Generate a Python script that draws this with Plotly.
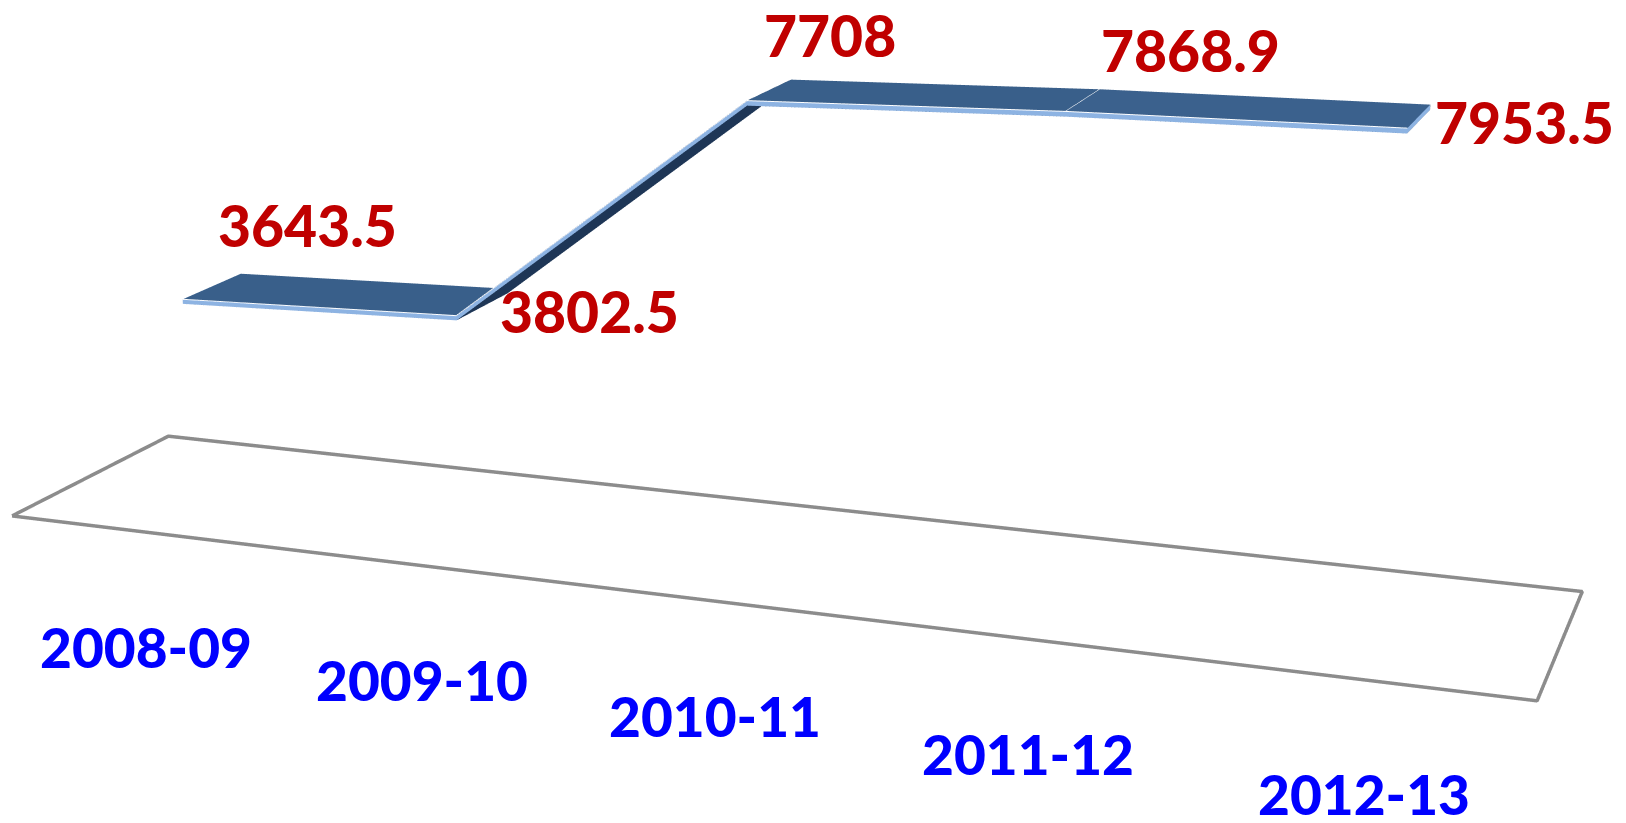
import numpy as np
import plotly.graph_objects as go

# ---- data ----
categories = ["2008-09", "2009-10", "2010-11", "2011-12", "2012-13"]
values = [3643.5, 3802.5, 7708, 7868.9, 7953.5]

# ---- layout / style ----
W, H = 1626, 823
XR = [-0.5, 4.5]            # category axis (floor spans the category bands)
YR = [0.0, 1.0]             # depth axis
ZR = [-40.0, 9000.0]        # value axis
PAD = 0.003
ASPECT = dict(x=3.0 * (1 + 2 * PAD / 5), y=0.5992 * (1 + 2 * PAD), z=1.0543)
EYE = dict(x=2.1083, y=-5.5677, z=1.4609)
CENTER = dict(x=0.1105, y=-0.0592, z=-0.2147)
VIEW_FOVY = 14.40           # effective vertical field of view (degrees) of the original chart
RIB_FRONT, RIB_BACK = 0.322, 0.706
THICK = 80

# plotly uses a 45 deg field of view over the scene height; a taller scene gives the weaker perspective
HS = int(round(H * np.tan(np.radians(22.5)) / np.tan(np.radians(VIEW_FOVY / 2))))
TOP = (HS - H) // 2

val_shift = [(95, 61), (107, -9), (61, 55), (107, 50), (105, -6)]
cat_shift = (3, -115)

top_c = np.array([0x3D, 0x64, 0x91]); dark_c = np.array([0x1E, 0x36, 0x56])
front_c = '#8DB3E2'

def hexc(c):
    return '#%02x%02x%02x' % tuple(int(round(v)) for v in c)

X, Y, Z, I, J, K, FC = [], [], [], [], [], [], []
def quad(v4, col):
    base = len(X)
    for v in v4:
        X.append(v[0]); Y.append(v[1]); Z.append(v[2])
    I.extend([base, base]); J.extend([base + 1, base + 2]); K.extend([base + 2, base + 3])
    FC.extend([col, col])

n = len(values)
yf, yb = RIB_FRONT, RIB_BACK
for k in range(n - 1):
    z0, z1 = values[k], values[k + 1]
    A_ = (k, yf, z0); B_ = (k + 1, yf, z1); C_ = (k + 1, yb, z1); D_ = (k, yb, z0)
    A2 = (k, yf, z0 - THICK); B2 = (k + 1, yf, z1 - THICK)
    C2 = (k + 1, yb, z1 - THICK); D2 = (k, yb, z0 - THICK)
    frac = min(1.0, abs(z1 - z0) / 1350)
    quad([A_, B_, C_, D_], hexc(top_c + (dark_c - top_c) * frac))
    quad([A_, B_, B2, A2], front_c)
    quad([A2, B2, C2, D2], hexc(dark_c))
    quad([D_, C_, C2, D2], hexc(dark_c))
    if k == 0:
        quad([A_, D_, D2, A2], front_c)
    if k == n - 2:
        quad([B_, C_, C2, B2], front_c)

fig = go.Figure()
fig.add_trace(go.Mesh3d(x=X, y=Y, z=Z, i=I, j=J, k=K, facecolor=FC, flatshading=True,
                        lighting=dict(ambient=1, diffuse=0, specular=0, fresnel=0, roughness=1),
                        hoverinfo='skip', showscale=False))
fig.add_trace(go.Scatter3d(x=list(range(n)), y=[yf] * n, z=values, mode='lines',
                           line=dict(color='white', width=2), hoverinfo='skip'))
sx, sy, sz = [], [], []
for k in range(1, n - 1):
    sx += [k, k, None]; sy += [yf, yb, None]; sz += [values[k], values[k], None]
fig.add_trace(go.Scatter3d(x=sx, y=sy, z=sz, mode='lines', line=dict(color='white', width=2),
                           hoverinfo='skip', connectgaps=False))
fig.add_trace(go.Scatter3d(x=[XR[0], XR[1], XR[1], XR[0], XR[0]], y=[YR[0], YR[0], YR[1], YR[1], YR[0]],
                           z=[0] * 5, mode='lines', line=dict(color='#8c8c8c', width=7), hoverinfo='skip'))

ym = (yf + yb) / 2
ann = []
for i, v in enumerate(values):
    ann.append(dict(x=i, y=ym, z=v, text='%g' % v, showarrow=False,
                    xshift=val_shift[i][0], yshift=val_shift[i][1],
                    font=dict(family='Lato', size=57, color='#C00000', weight=900)))
for i, c in enumerate(categories):
    ann.append(dict(x=i, y=0, z=0, text=c, showarrow=False,
                    xshift=cat_shift[0], yshift=cat_shift[1],
                    font=dict(family='Lato', size=55, color='#0000FF', weight=900)))

ax_off = dict(visible=False, showbackground=False, showgrid=False, zeroline=False, showspikes=False)
fig.update_layout(
    width=W, height=HS, margin=dict(l=0, r=0, t=0, b=0), showlegend=False,
    paper_bgcolor='white', hovermode=False,
    scene=dict(domain=dict(x=[0, 1], y=[0, 1]), bgcolor='white',
               xaxis=dict(range=[XR[0] - PAD, XR[1] + PAD], **ax_off),
               yaxis=dict(range=[YR[0] - PAD, YR[1] + PAD], **ax_off),
               zaxis=dict(range=ZR, **ax_off),
               aspectmode='manual', aspectratio=ASPECT,
               camera=dict(eye=EYE, center=CENTER, up=dict(x=0, y=0, z=1)),
               annotations=ann),
)
post = ("var gd=document.getElementById('{plot_id}');"
        "document.documentElement.style.overflow='hidden';"
        "document.body.style.margin='0';document.body.style.overflow='hidden';"
        "document.body.style.height='%dpx';"
        "gd.style.position='fixed';gd.style.left='0px';gd.style.top='-%dpx';" % (H, TOP))
fig.write_html("out.html", config=dict(displayModeBar=False), post_script=post)
